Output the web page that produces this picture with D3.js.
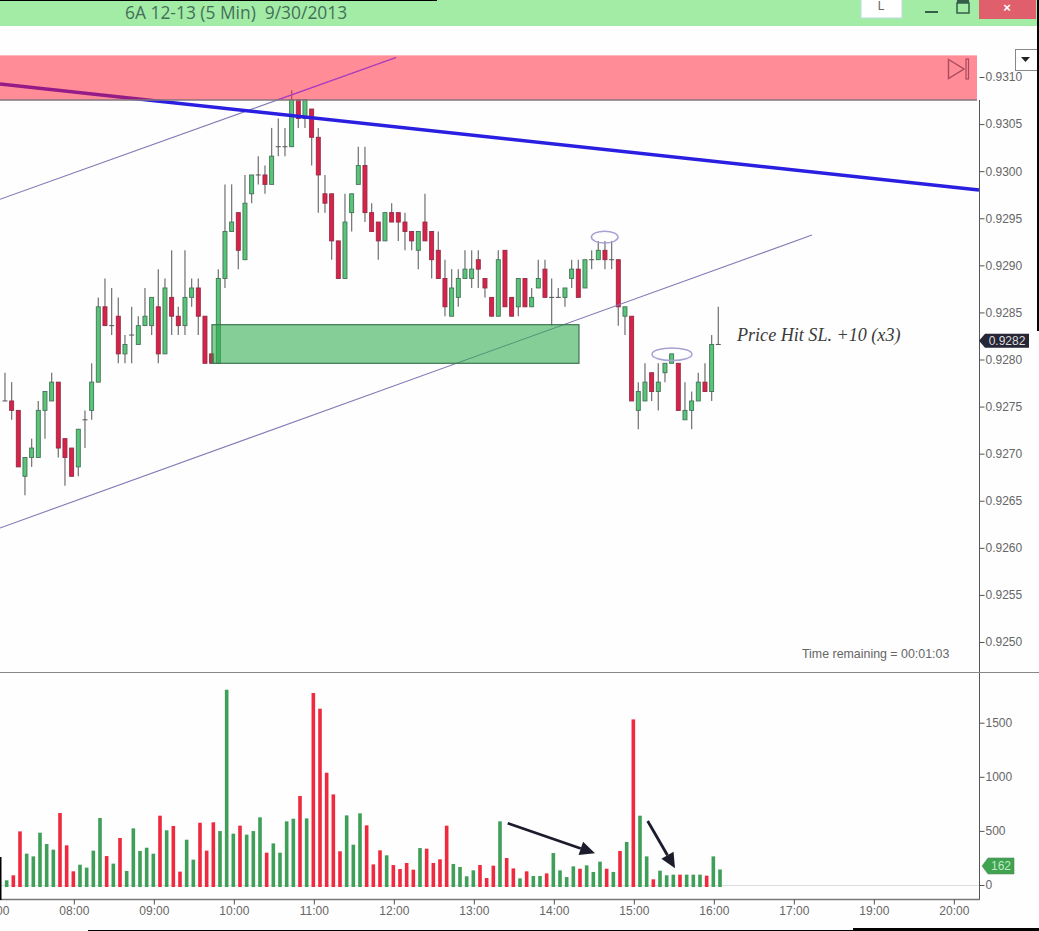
<!DOCTYPE html>
<html>
<head>
<meta charset="utf-8">
<script src="https://cdn.jsdelivr.net/npm/d3@7"></script>
<style>
  html, body { margin: 0; padding: 0; background: #fff; overflow: hidden; }
  svg { display: block; }
  text { font-family: "Liberation Sans", Arial, sans-serif; }
  .axis path { display: none; }
  .axis line { stroke: #555; }
  .axis text { fill: #666; font-size: 12px; }
</style>
</head>
<body>
<svg id="chart" width="1039" height="931"></svg>
<script>
// prices in ticks of 0.0001 (9276 = 0.9276), one entry per 5 min bar
const opens = [
  9276,9276,9275,9268,9270,9270,9275,9276,9278,9272,9271,9269,
  9274,9275,9278,9286,9284,9285,9281,9283,9282,9284,9284,9286,
  9281,9287,9285,9284,9287,9288,9285,9281,9280,9289,9294,9296,
  9291,9298,9300,9300,9299,9303,9303,9303,9308,9306,9307,9304,
  9298,9298,9293,9289,9296,9299,9301,9296,9295,9293,9296,9296,
  9295,9294,9292,9295,9294,9292,9289,9285,9287,9289,9289,9291,
  9289,9287,9285,9292,9287,9286,9289,9286,9288,9290,9287,9287,
  9287,9289,9290,9288,9291,9291,9292,9291,9291,9285,9285,9275,
  9276,9279,9277,9279,9280,9280,9274,9275,9276,9278,9277,9282
];
const highs = [
  9279,9278,9275,9270,9272,9276,9277,9279,9278,9272,9271,9273,
  9275,9280,9287,9289,9288,9287,9283,9286,9285,9288,9287,9290,
  9289,9292,9286,9292,9289,9289,9285,9281,9290,9299,9299,9296,
  9300,9300,9302,9301,9305,9306,9305,9309,9308,9308,9307,9305,
  9300,9298,9293,9298,9298,9303,9303,9297,9295,9296,9297,9296,
  9296,9294,9294,9298,9294,9294,9291,9290,9290,9292,9292,9292,
  9289,9287,9292,9292,9287,9289,9289,9288,9291,9291,9289,9288,
  9288,9291,9291,9291,9292,9293,9293,9293,9291,9286,9285,9278,
  9280,9279,9280,9280,9281,9280,9278,9277,9279,9280,9283,9286
];
const lows = [
  9276,9274,9269,9266,9269,9270,9272,9276,9270,9267,9268,9268,
  9271,9274,9278,9284,9283,9280,9280,9280,9282,9284,9283,9280,
  9281,9283,9283,9283,9286,9283,9280,9280,9280,9288,9294,9290,
  9291,9297,9299,9298,9299,9302,9302,9303,9305,9305,9301,9296,
  9296,9291,9289,9289,9294,9299,9295,9294,9291,9293,9295,9293,
  9292,9292,9290,9293,9289,9289,9285,9285,9286,9289,9288,9288,
  9287,9285,9285,9286,9285,9285,9286,9286,9288,9287,9284,9287,
  9286,9288,9287,9288,9290,9291,9290,9290,9284,9283,9276,9273,
  9276,9276,9275,9278,9280,9275,9274,9273,9276,9277,9276,9282
];
const closes = [
  9276,9275,9269,9270,9271,9275,9277,9278,9271,9270,9268,9273,
  9274,9278,9286,9284,9284,9281,9282,9283,9284,9285,9287,9281,
  9288,9285,9284,9287,9288,9285,9280,9280,9289,9294,9295,9292,
  9297,9300,9300,9299,9302,9303,9303,9308,9306,9308,9304,9300,
  9297,9293,9289,9295,9298,9301,9296,9294,9293,9296,9295,9295,
  9294,9293,9294,9293,9291,9289,9286,9288,9289,9290,9290,9290,
  9288,9285,9291,9286,9285,9289,9286,9287,9289,9287,9287,9287,
  9288,9290,9287,9291,9291,9292,9291,9291,9286,9286,9276,9277,
  9278,9277,9278,9280,9281,9275,9275,9276,9278,9277,9282,9282
];
const volumes = [
  62,108,514,308,283,502,397,345,684,385,145,206,
  179,336,638,286,216,453,148,542,333,363,308,659,
  524,564,142,437,253,594,336,598,517,1823,493,567,
  484,517,644,317,403,317,607,631,841,634,1793,1648,
  1056,856,330,662,391,681,570,209,339,293,203,166,
  222,160,360,354,222,256,567,213,185,99,154,203,
  83,197,607,268,172,80,145,102,102,126,314,154,
  92,191,169,200,139,234,169,139,333,416,1549,659,
  283,71,151,108,114,114,114,114,114,105,283,162
];

const timeLabels = ["07:00","08:00","09:00","10:00","11:00","12:00","13:00",
  "14:00","15:00","16:00","17:00","19:00","20:00"];
const priceTicks = d3.range(9250, 9311, 5);
const volumeTicks = [0, 500, 1000, 1500];

// drawings on the chart, in [bar, price] or [bar, volume]
const trendLine = [[-0.75, 9309.66], [146.1, 9298.4]];
const channelUpper = [[-0.75, 9297.42], [58.66, 9312.48]];
const channelLower = [[-0.75, 9262.51], [121.05, 9293.62]];
const resistanceZone = {bars: [-2, 146], prices: [9307.96, 9312.7]};
const supportZone = {bars: [31.05, 86.1], prices: [9280, 9284.1]};
const circled = [
  {bar: 89.96, price: 9293.4, dBar: 2, dPrice: 0.63},
  {bar: 100.05, price: 9280.96, dBar: 3, dPrice: 0.67}
];
const volumeArrows = [
  [[75.16, 589], [88.25, 311]],
  [[96.15, 610], [100.25, 173]]
];

const GREEN = "#56c677", RED = "#dc2146";
const svg = d3.select("#chart");

const xVol = d3.scaleLinear().domain([-1, 146]).range([0, 980]);
const xBar = d3.scaleLinear().domain([-1, 146]).range([-1.7, 978.3]);
const yPrice = d3.scaleLinear().domain([9280, 9310]).range([363.3, 80.8]);
const yVol = d3.scaleLinear().domain([0, 1500]).range([887, 724.7]);

const bars = opens.map((o, i) => ({
  i: i, open: o, high: highs[i], low: lows[i], close: closes[i],
  volume: volumes[i], up: closes[i] >= o
}));

svg.append("rect").attr("width", 1039).attr("height", 931).attr("fill", "#fefefe");

drawTitleBar();
drawCandles();
drawOverlays();
drawVolume();
drawAxes();
drawScreenEdges();

function drawTitleBar() {
  svg.append("rect").attr("width", 1039).attr("height", 26).attr("fill", "#a3eca6");
  svg.append("text").attr("x", 125).attr("y", 19)
    .attr("fill", "#44705a").attr("font-size", 17.4)
    .style("font-family", "'Open Sans', sans-serif")
    .attr("xml:space", "preserve")
    .text("6A 12-13 (5 Min)  9/30/2013");

  svg.append("rect").attr("x", 861).attr("y", -1).attr("width", 41).attr("height", 19)
    .attr("fill", "#fff").attr("stroke", "#b9dbe0");
  svg.append("text").attr("x", 881).attr("y", 10).attr("text-anchor", "middle")
    .attr("fill", "#666").attr("font-size", 12).text("L");
  svg.append("rect").attr("x", 925).attr("y", 11).attr("width", 13).attr("height", 2).attr("fill", "#355e4a");
  svg.append("rect").attr("x", 957).attr("y", 3).attr("width", 12).attr("height", 10)
    .attr("fill", "none").attr("stroke", "#355e4a").attr("stroke-width", 1.5);
  svg.append("rect").attr("x", 957).attr("y", 0).attr("width", 12).attr("height", 3).attr("fill", "#355e4a");
  svg.append("rect").attr("x", 979).attr("y", 0).attr("width", 57).attr("height", 19).attr("fill", "#df5f6c");
  svg.append("text").attr("x", 1007).attr("y", 12).attr("text-anchor", "middle")
    .attr("fill", "#fff").attr("font-size", 13).attr("font-weight", "bold").text("×");
}

function drawCandles() {
  const g = svg.append("g").attr("id", "candles");

  g.selectAll("line.wick")
    .data(bars)
    .join("line")
    .attr("class", "wick")
    .attr("x1", d => xBar(d.i)).attr("x2", d => xBar(d.i))
    .attr("y1", d => yPrice(d.high)).attr("y2", d => yPrice(d.low))
    .attr("stroke", "#7a7a7a").attr("stroke-width", 1.3);

  g.selectAll("rect.body")
    .data(bars.filter(d => d.open !== d.close))
    .join("rect")
    .attr("class", "body")
    .attr("x", d => xBar(d.i) - 2)
    .attr("width", 4)
    .attr("y", d => yPrice(Math.max(d.open, d.close)))
    .attr("height", d => Math.abs(yPrice(d.open) - yPrice(d.close)))
    .attr("fill", d => d.up ? GREEN : RED)
    .attr("stroke", d => d.up ? "#46725a" : "#8e2c48")
    .attr("stroke-width", 0.9);

  g.selectAll("line.doji")
    .data(bars.filter(d => d.open === d.close))
    .join("line")
    .attr("class", "doji")
    .attr("x1", d => xBar(d.i) - 2.5).attr("x2", d => xBar(d.i) + 2.5)
    .attr("y1", d => yPrice(d.open)).attr("y2", d => yPrice(d.open))
    .attr("stroke", "#555").attr("stroke-width", 1);
}

function drawOverlays() {
  const line = d3.line().x(d => xBar(d[0])).y(d => yPrice(d[1]));
  const g = svg.append("g").attr("id", "overlays");

  [channelUpper, channelLower].forEach(c => {
    g.append("path").attr("d", line(c)).attr("fill", "none")
      .attr("stroke", "#7f7bb5").attr("stroke-width", 1.1);
  });
  g.append("path").attr("d", line(trendLine)).attr("fill", "none")
    .attr("stroke", "#2a1fe0").attr("stroke-width", 3.6);

  zoneRect(g, supportZone).attr("fill", "#2faa4c").attr("fill-opacity", 0.58)
    .attr("stroke", "#3d7550").attr("stroke-width", 1.2);
  zoneRect(g, resistanceZone).attr("fill", "#ff1a30").attr("fill-opacity", 0.5);

  // the upper channel shows up brighter where it runs through the red zone
  svg.append("clipPath").attr("id", "zone-clip")
    .append("rect")
    .attr("x", xBar(resistanceZone.bars[0]))
    .attr("width", xBar(resistanceZone.bars[1]) - xBar(resistanceZone.bars[0]))
    .attr("y", yPrice(resistanceZone.prices[1]))
    .attr("height", yPrice(resistanceZone.prices[0]) - yPrice(resistanceZone.prices[1]));
  g.append("path").attr("d", line(channelUpper)).attr("fill", "none")
    .attr("clip-path", "url(#zone-clip)")
    .attr("stroke", "#a93fd0").attr("stroke-width", 1.2);

  g.append("line").attr("x1", 0).attr("x2", 977)
    .attr("y1", yPrice(resistanceZone.prices[0])).attr("y2", yPrice(resistanceZone.prices[0]))
    .attr("stroke", "#85757c").attr("stroke-width", 1.4);
  // cover the bit of zone that runs past the axis
  g.append("rect").attr("x", 977).attr("y", 50).attr("width", 62).attr("height", 60).attr("fill", "#fefefe");

  g.selectAll("ellipse")
    .data(circled)
    .join("ellipse")
    .attr("cx", d => xBar(d.bar))
    .attr("cy", d => yPrice(d.price))
    .attr("rx", d => xBar(d.bar + d.dBar) - xBar(d.bar))
    .attr("ry", d => yPrice(d.price - d.dPrice) - yPrice(d.price))
    .attr("fill", "none").attr("stroke", "#a6a2d4").attr("stroke-width", 1.5);

  g.append("text").attr("x", 737).attr("y", 341)
    .attr("fill", "#3a3a3a").attr("font-size", 18.1).attr("font-style", "italic")
    .style("font-family", "'Liberation Serif', serif")
    .text("Price Hit SL. +10 (x3)");

  g.append("text").attr("x", 802).attr("y", 658)
    .attr("fill", "#666").attr("font-size", 12.4)
    .text("Time remaining = 00:01:03");

  // jump-to-end button in the corner of the price panel
  g.append("path").attr("d", "M948.5,59.5 L964,69 L948.5,78.5 Z")
    .attr("fill", "none").attr("stroke", "#a84a5c").attr("stroke-width", 1.4);
  g.append("rect").attr("x", 966).attr("y", 59).attr("width", 2.5).attr("height", 20)
    .attr("fill", "none").attr("stroke", "#a84a5c").attr("stroke-width", 1.2);
}

function zoneRect(g, zone) {
  return g.append("rect")
    .attr("x", xBar(zone.bars[0]))
    .attr("width", xBar(zone.bars[1]) - xBar(zone.bars[0]))
    .attr("y", yPrice(zone.prices[1]))
    .attr("height", yPrice(zone.prices[0]) - yPrice(zone.prices[1]));
}

function drawVolume() {
  const g = svg.append("g").attr("id", "volume");

  g.append("line").attr("x1", 0).attr("x2", 980)
    .attr("y1", 885.5).attr("y2", 885.5).attr("stroke", "#ddd");

  g.selectAll("rect")
    .data(bars)
    .join("rect")
    .attr("x", d => xVol(d.i) - 1.8)
    .attr("width", 3.6)
    .attr("y", d => yVol(d.volume))
    .attr("height", d => yVol(0) - yVol(d.volume))
    .attr("fill", d => d.up ? "#3f9f58" : "#ef2a3e");

  volumeArrows.forEach(a => {
    const x0 = xVol(a[0][0]), y0 = yVol(a[0][1]);
    const x1 = xVol(a[1][0]), y1 = yVol(a[1][1]);
    const ang = Math.atan2(y1 - y0, x1 - x0);
    const back = 15, side = 7;
    const bx = x1 - back * Math.cos(ang), by = y1 - back * Math.sin(ang);
    g.append("line").attr("x1", x0).attr("y1", y0).attr("x2", bx).attr("y2", by)
      .attr("stroke", "#1c1c2c").attr("stroke-width", 2.8);
    g.append("path")
      .attr("d", `M${x1},${y1} L${bx + side * Math.sin(ang)},${by - side * Math.cos(ang)} L${bx - side * Math.sin(ang)},${by + side * Math.cos(ang)} Z`)
      .attr("fill", "#1c1c2c");
  });
}

function drawAxes() {
  // panel frame
  svg.append("line").attr("x1", 979.5).attr("x2", 979.5).attr("y1", 100).attr("y2", 899)
    .attr("stroke", "#555");
  svg.append("line").attr("x1", 0).attr("x2", 1039).attr("y1", 672.5).attr("y2", 672.5)
    .attr("stroke", "#888").attr("stroke-width", 1.2);
  svg.append("line").attr("x1", 0).attr("x2", 980).attr("y1", 899.5).attr("y2", 899.5)
    .attr("stroke", "#777").attr("stroke-width", 1.4);

  svg.append("g").attr("class", "axis")
    .attr("transform", "translate(979.5,-3.8)")
    .call(d3.axisRight(yPrice).tickValues(priceTicks).tickSize(5).tickPadding(1)
      .tickFormat(d => (d / 10000).toFixed(4)));

  svg.append("g").attr("class", "axis")
    .attr("transform", "translate(979.5,-2)")
    .call(d3.axisRight(yVol).tickValues(volumeTicks).tickSize(5).tickPadding(1)
      .tickFormat(d3.format("d")));

  const tickBars = timeLabels.map((t, i) => 12 * i - 2);
  svg.append("g").attr("class", "axis")
    .attr("transform", "translate(0.5,899.5)")
    .call(d3.axisBottom(xVol).tickValues(tickBars).tickSize(5).tickPadding(2)
      .tickFormat((d, i) => timeLabels[i]));

  // last price and last volume tags
  const lastPrice = closes[closes.length - 1];
  const py = yPrice(lastPrice) - 3.8;
  svg.append("path")
    .attr("d", `M979,${py} L985,${py - 7} L1029,${py - 7} L1029,${py + 7} L985,${py + 7} Z`)
    .attr("fill", "#262636");
  svg.append("text").attr("x", 1007).attr("y", py + 4.5).attr("text-anchor", "middle")
    .attr("fill", "#ddd").attr("font-size", 12).text((lastPrice / 10000).toFixed(4));

  const lastVol = volumes[volumes.length - 1];
  const vy = yVol(lastVol) - 2 - 1.5;
  svg.append("path")
    .attr("d", `M982,${vy} L988,${vy - 8} L1014,${vy - 8} L1014,${vy + 8} L988,${vy + 8} Z`)
    .attr("fill", "#3fa34f").attr("stroke", "#5a8a62").attr("stroke-width", 0.6);
  svg.append("text").attr("x", 1001).attr("y", vy + 4.5).attr("text-anchor", "middle")
    .attr("fill", "#bfe8c4").attr("font-size", 12).text(lastVol);

  // dropdown button
  svg.append("rect").attr("x", 1015.5).attr("y", 49.5).attr("width", 22).attr("height", 21)
    .attr("fill", "#fff").attr("stroke", "#888");
  svg.append("path").attr("d", "M1021,57 L1030,57 L1025.5,62 Z").attr("fill", "#222");
}

// black slivers left around the screenshot
function drawScreenEdges() {
  const edge = (x, y, w, h) => svg.append("rect")
    .attr("x", x).attr("y", y).attr("width", w).attr("height", h).attr("fill", "#000");
  edge(0, 0, 437, 1);
  edge(1037, 0, 2, 331);
  edge(0, 857, 1.5, 43);
  edge(88, 930, 951, 1);
  edge(853, 928, 186, 3);
}
</script>
</body>
</html>
